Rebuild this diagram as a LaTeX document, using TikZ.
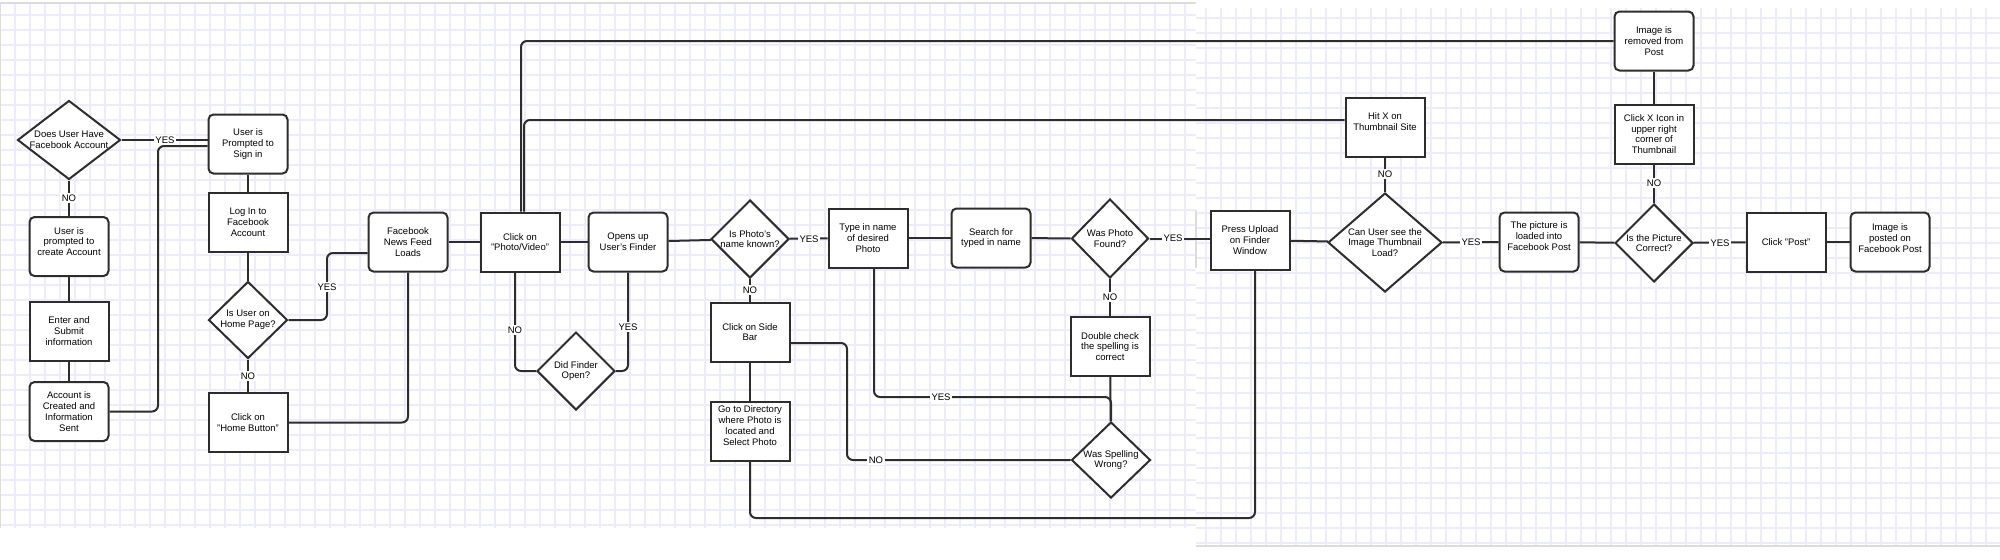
\documentclass[tikz,border=0pt]{standalone}
\usepackage{fontspec}
\setmainfont{Liberation Sans}
\usetikzlibrary{shapes.geometric}
\definecolor{gridc}{RGB}{236,236,253}
\definecolor{linec}{RGB}{45,45,45}
\definecolor{seamc}{RGB}{220,220,220}
\newcommand\mkbox[5]{\node[#1] (#2) at (#3) {}; \node[txt] (#2t) at ([yshift=#4]#2.center) {#5};}
\begin{document}
\begin{tikzpicture}[x=0.5pt,y=-0.5pt,
  txt/.style={font=\fontsize{4.75}{5.4}\selectfont, align=center, inner sep=0pt},
  sq/.style={draw=linec, line width=1pt, fill=white, minimum width=39.5pt, minimum height=29.5pt, inner sep=0pt},
  rnd/.style={sq, rounded corners=2.5pt},
  dia/.style 2 args={diamond, draw=linec, line width=1pt, fill=white, inner sep=0pt, minimum width=#1, minimum height=#2},
  conn/.style={draw=linec, line width=1pt, rounded corners=3pt},
  lbl/.style={txt, fill=white, inner sep=0.7pt}]
\useasboundingbox (0,0) rectangle (2000,559);
\fill[white] (0,0) rectangle (2000,559);
% background grids (two stitched screenshots)
\draw[gridc, line width=0.7pt, step=7.5pt] (0,4) grid (1196,528);
\begin{scope}[shift={(6,3)}]
\draw[gridc, line width=0.7pt, step=7.5pt] (1190,5) grid (1994,542);
\end{scope}
\draw[seamc, line width=1pt] (0,3) -- (1196,3);
\draw[seamc, line width=0.6pt] (0.5,4) -- (0.5,528);
\draw[seamc, line width=1pt] (1196,546) -- (2000,546);
\draw[seamc, line width=0.8pt] (1196,210) -- (1196,268);

% nodes
\mkbox{dia={51.5pt}{39.5pt}}{d1}{69,140}{0pt}{Does User Have\\Facebook Account}
\mkbox{rnd}{create}{69,246.5}{2.5pt}{User is\\prompted to\\create Account}
\mkbox{sq}{enter}{69,331}{0pt}{Enter and\\Submit\\information}
\mkbox{rnd}{created}{69,411.5}{0pt}{Account is\\Created and\\Information\\Sent}
\mkbox{rnd}{signin}{248,144}{0pt}{User is\\Prompted to\\Sign in}
\mkbox{sq}{login}{248,222}{0pt}{Log In to\\Facebook\\Account}
\mkbox{dia={39.5pt}{38.5pt}}{homeD}{248,320}{0pt}{Is User on\\Home Page?}
\mkbox{sq}{homebtn}{248,422.5}{0pt}{Click on\\"Home Button"}
\mkbox{rnd}{feed}{408,242}{0pt}{Facebook\\News Feed\\Loads}
\mkbox{sq}{clickPV}{520,242}{0pt}{Click on\\"Photo/Video"}
\mkbox{rnd}{finder}{628,242}{0pt}{Opens up\\User's Finder}
\mkbox{dia={39pt}{39pt}}{didF}{576,371}{0pt}{Did Finder\\Open?}
\mkbox{dia={39pt}{39pt}}{nk}{750,239}{0pt}{Is Photo's\\name known?}
\mkbox{sq}{typeName}{868,238}{0pt}{Type in name\\of desired\\Photo}
\mkbox{rnd}{search}{991,238}{0pt}{Search for\\typed in name}
\mkbox{dia={38.5pt}{39.5pt}}{photoFound}{1110,238.5}{0pt}{Was Photo\\Found?}
\mkbox{sq}{sidebar}{750,332}{0pt}{Click on Side\\Bar}
\mkbox{sq}{directory}{750,431}{2.75pt}{Go to Directory\\where Photo is\\located and\\Select Photo}
\mkbox{sq}{doubleCheck}{1110,346.5}{0pt}{Double check\\the spelling is\\correct}
\mkbox{dia={39.5pt}{38pt}}{spelling}{1111,460}{0pt}{Was Spelling\\Wrong?}
\mkbox{sq}{press}{1250,240}{0pt}{Press Upload\\on Finder\\Window}
\mkbox{sq}{hitX}{1385,127}{2.75pt}{Hit X on\\Thumbnail Site}
\mkbox{dia={57pt}{49.5pt}}{canSee}{1385,242.5}{0pt}{Can User see the\\Image Thumbnail\\Load?}
\mkbox{rnd}{loaded}{1539,242}{3pt}{The picture is\\loaded into\\Facebook Post}
\mkbox{dia={39pt}{39pt}}{correct}{1654,243}{0pt}{Is the Picture\\Correct?}
\mkbox{sq}{clickX}{1654,134}{0pt}{Click X Icon in\\upper right\\corner of\\Thumbnail}
\mkbox{rnd}{removed}{1654,41}{0pt}{Image is\\removed from\\Post}
\mkbox{sq}{clickPost}{1786,242}{0pt}{Click "Post"}
\mkbox{rnd}{posted}{1890,242}{2pt}{Image is\\posted on\\Facebook Post}

% connectors
\draw[conn] (d1.east) -- (d1.east -| signin.west);
\draw[conn] (created.east) -- (158,411.5) -- (158,146) -- (signin.west |- 0,146);
\draw[conn] (d1) -- (create);
\draw[conn] (create) -- (enter);
\draw[conn] (enter) -- (created);
\draw[conn] (signin) -- (login);
\draw[conn] (login) -- (homeD);
\draw[conn] (homeD.east) -- (327,320) -- (327,253) -- (feed.west |- 0,253);
\draw[conn] (homeD) -- (homebtn);
\draw[conn] (homebtn.east) -| (feed.south);
\draw[conn] (feed) -- (clickPV);
\draw[conn] (clickPV) -- (finder);
\draw[conn] ([xshift=-2.5pt]clickPV.south) |- (didF.west);
\draw[conn] (finder.south) |- (didF.east);
\draw[conn] (finder) -- (nk);
\draw[conn] (nk) -- (typeName);
\draw[conn] (nk) -- (sidebar);
\draw[conn] (typeName) -- (search);
\draw[conn] (search) -- (photoFound);
\draw[conn] (photoFound.east) -- (photoFound.east -| press.west);
\draw[conn] (photoFound) -- (doubleCheck);
\draw[conn] (doubleCheck) -- (spelling);
\draw[conn] ([xshift=3pt]typeName.south) |- (spelling.north |- 0,397) -- (spelling.north);
\draw[conn] ([yshift=-5.5pt]sidebar.east) -- (847,343) |- (spelling.west);
\draw[conn] (sidebar) -- (directory);
\draw[conn] (directory.south) |- ([xshift=2.5pt]press.south |- 0,518) -- ([xshift=2.5pt]press.south);
\draw[conn] (press) -- (canSee);
\draw[conn] (hitX) -- (canSee);
\draw[conn] ([yshift=3.5pt]hitX.west) -| ([xshift=2pt]clickPV.north);
\draw[conn] (removed.west) -| ([xshift=0.5pt]clickPV.north);
\draw[conn] (canSee) -- (loaded);
\draw[conn] (loaded) -- (correct);
\draw[conn] (correct) -- (clickX);
\draw[conn] (clickX) -- (removed);
\draw[conn] (correct) -- (clickPost);
\draw[conn] (clickPost) -- (posted);

% connector labels
\node[lbl] (l1) at (165,140) {YES};
\node[lbl] (l2) at (69,198) {NO};
\node[lbl] (l3) at (327,287) {YES};
\node[lbl] (l4) at (248,376) {NO};
\node[lbl] (l5) at (515,330) {NO};
\node[lbl] (l6) at (628,327) {YES};
\node[lbl] (l7) at (809,239) {YES};
\node[lbl] (l8) at (750,290) {NO};
\node[lbl] (l9) at (1173,238.5) {YES};
\node[lbl] (l10) at (1110,297) {NO};
\node[lbl] (l11) at (941,397) {YES};
\node[lbl] (l12) at (876,460) {NO};
\node[lbl] (l13) at (1385,174) {NO};
\node[lbl] (l14) at (1471,242) {YES};
\node[lbl] (l15) at (1654,183) {NO};
\node[lbl] (l16) at (1720,243) {YES};
\end{tikzpicture}
\end{document}
